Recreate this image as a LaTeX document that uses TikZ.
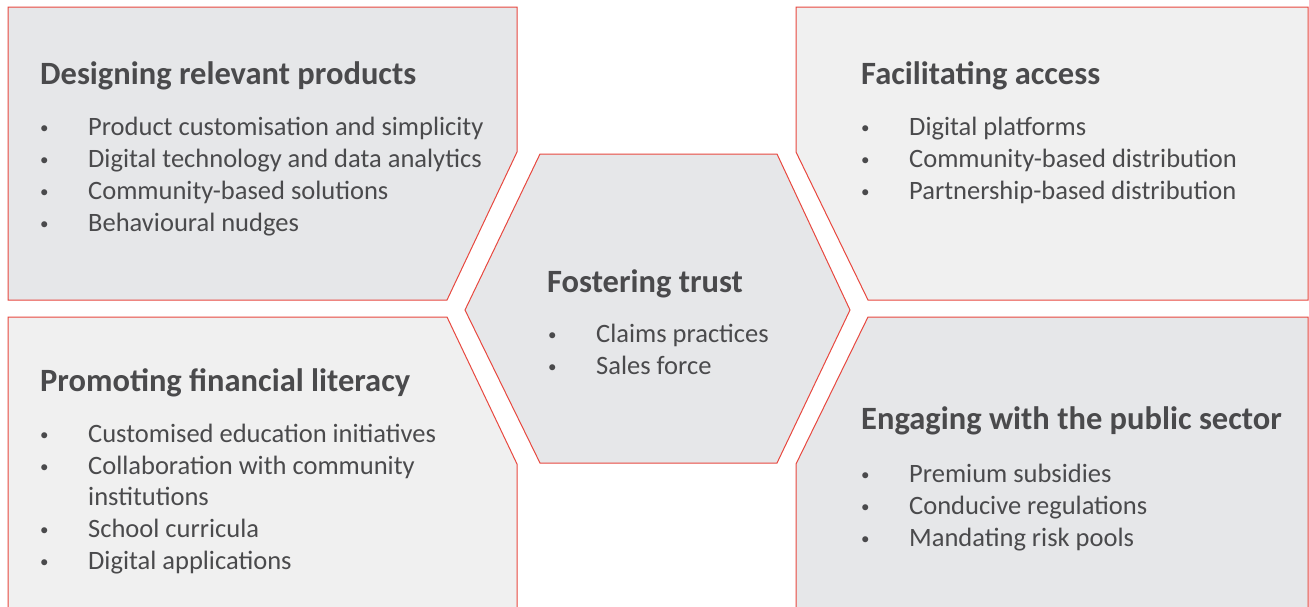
\documentclass[tikz,border=0pt]{standalone}
\usepackage{fontspec}
\setmainfont{Carlito}
\definecolor{bordred}{HTML}{E8483F}
\definecolor{darkfill}{HTML}{E6E7E9}
\definecolor{lightfill}{HTML}{F0F0F0}
\definecolor{txt}{HTML}{4A4A4C}
\tikzset{
  panel/.style={draw=bordred, line width=1pt},
  head/.style={anchor=base west, inner sep=0pt, text=txt, font=\fontsize{32.5}{38}\selectfont\bfseries},
  bul/.style={anchor=base west, inner sep=0pt, text=txt, font=\fontsize{17}{30}\selectfont},
  item/.style={anchor=base west, inner sep=0pt, text=txt, font=\fontsize{26.5}{32}\selectfont},
}
\begin{document}
\begin{tikzpicture}[x=1pt,y=-1pt]
\useasboundingbox (0,0) rectangle (1309,606);
\clip (0,0) rectangle (1309,606);
% panels
\path[panel, fill=darkfill] (8,7) -- (517,7) -- (517,152) -- (447,300) -- (8,300) -- cycle;
\path[panel, fill=lightfill] (796,7) -- (1308,7) -- (1308,300) -- (868,300) -- (796,152) -- cycle;
\path[panel, fill=lightfill] (8,317) -- (447,317) -- (517,464) -- (517,620) -- (8,620) -- cycle;
\path[panel, fill=darkfill] (868,317) -- (1308,317) -- (1308,620) -- (796,620) -- (796,464) -- cycle;
\path[panel, fill=darkfill] (540,154) -- (777,154) -- (850,310) -- (777,463) -- (540,463) -- (465,310) -- cycle;

% top-left
\node[head] (h1) at (40,84) {Designing relevant products};
\node[bul] (b11) at (40,133) {•}; \node[item] (t11) at (88,135) {Product customisation and simplicity};
\node[bul] (b12) at (40,165) {•}; \node[item] (t12) at (88,167) {Digital technology and data analytics};
\node[bul] (b13) at (40,197) {•}; \node[item] (t13) at (88,199) {Community-based solutions};
\node[bul] (b14) at (40,229) {•}; \node[item] (t14) at (88,231) {Behavioural nudges};

% top-right
\node[head] (h2) at (861,84) {Facilitating access};
\node[bul] (b21) at (861,133) {•}; \node[item] (t21) at (909,135) {Digital platforms};
\node[bul] (b22) at (861,165) {•}; \node[item] (t22) at (909,167) {Community-based distribution};
\node[bul] (b23) at (861,197) {•}; \node[item] (t23) at (909,199) {Partnership-based distribution};

% centre
\node[head] (h3) at (547,292) {Fostering trust};
\node[bul] (b31) at (548,340) {•}; \node[item] (t31) at (596,342) {Claims practices};
\node[bul] (b32) at (548,372) {•}; \node[item] (t32) at (596,374) {Sales force};

% bottom-left
\node[head] (h4) at (40,391) {Promoting financial literacy};
\node[bul] (b41) at (40,440) {•}; \node[item] (t41) at (88,442) {Customised education initiatives};
\node[bul] (b42) at (40,472) {•}; \node[item] (t42) at (88,474) {Collaboration with community};
\node[item] (t42b) at (88,505) {institutions};
\node[bul] (b43) at (40,535) {•}; \node[item] (t43) at (88,537) {School curricula};
\node[bul] (b44) at (40,567) {•}; \node[item] (t44) at (88,569) {Digital applications};

% bottom-right
\node[head] (h5) at (861,429) {Engaging with the public sector};
\node[bul] (b51) at (861,480) {•}; \node[item] (t51) at (909,482) {Premium subsidies};
\node[bul] (b52) at (861,512) {•}; \node[item] (t52) at (909,514) {Conducive regulations};
\node[bul] (b53) at (861,544) {•}; \node[item] (t53) at (909,546) {Mandating risk pools};
\end{tikzpicture}
\end{document}
